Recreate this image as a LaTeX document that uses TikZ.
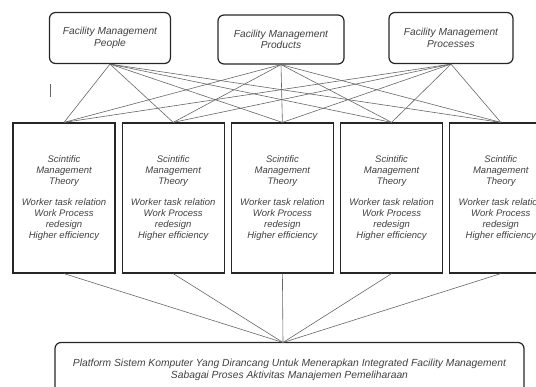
\documentclass[tikz,border=0pt]{standalone}
\usepackage{fontspec}
\setmainfont{Liberation Sans}
\usepackage{tikz}
\usetikzlibrary{positioning}

\begin{document}
\begin{tikzpicture}[
  x=1pt, y=-1pt,
  topbox/.style={draw=black!85, line width=1.2pt, rounded corners=6pt,
    minimum width=121pt, minimum height=51pt, align=center, inner sep=2pt,
    font=\fontsize{10.2}{11.5}\selectfont\itshape, text=black!75},
  theorybox/.style={draw=black!85, line width=1.2pt,
    minimum width=102pt, minimum height=150pt, align=center, inner sep=2pt,
    font=\fontsize{9.5}{11}\selectfont\itshape, text=black!75},
  ]
  \tikzset{%
    conn/.style={
      draw=black!60,
      line width=0.6pt,
    },
  }
  \useasboundingbox (0,0) rectangle (536,387);
  %Nodes
  \node[topbox](t1) at (110,38) {Facility Management\\People};
  \node[topbox, minimum width=126pt, minimum height=49pt](t2) at (281,39.5) {Facility Management\\Products};
  \node[topbox, minimum width=124pt](t3) at (451,38) {Facility Management\\Processes};
  \node[theorybox](m1) at (64,198) {Scintific\\Management\\Theory\\[10pt]Worker task relation\\Work Process\\redesign\\Higher efficiency};
  \node[theorybox, right=6pt of m1](m2) {Scintific\\Management\\Theory\\[10pt]Worker task relation\\Work Process\\redesign\\Higher efficiency};
  \node[theorybox, right=6pt of m2](m3) {Scintific\\Management\\Theory\\[10pt]Worker task relation\\Work Process\\redesign\\Higher efficiency};
  \node[theorybox, right=6pt of m3](m4) {Scintific\\Management\\Theory\\[10pt]Worker task relation\\Work Process\\redesign\\Higher efficiency};
  \node[theorybox, right=6pt of m4](m5) {Scintific\\Management\\Theory\\[10pt]Worker task relation\\Work Process\\redesign\\Higher efficiency};
  \node[topbox, minimum width=469pt, minimum height=55pt, font=\fontsize{10.3}{12.6}\selectfont\itshape](pf) at (289.5,370) {Platform Sistem Komputer Yang Dirancang Untuk Menerapkan Integrated Facility Management\\Sabagai Proses Aktivitas Manajemen Pemeliharaan};
  \coordinate (pin) at (283,342.5);
  %Lines
  \draw[conn]
    (t1.south) edge (m1.north)
    (t1.south) edge (m2.north)
    (t1.south) edge (m3.north)
    (t1.south) edge (m4.north)
    (t1.south) edge (m5.north)
    (t2.south) edge (m1.north)
    (t2.south) edge (m2.north)
    (t2.south) edge (m3.north)
    (t2.south) edge (m4.north)
    (t2.south) edge (m5.north)
    (t3.south) edge (m1.north)
    (t3.south) edge (m2.north)
    (t3.south) edge (m3.north)
    (t3.south) edge (m4.north)
    (t3.south) edge (m5.north)
    (m1.south) edge (pin)
    (m2.south) edge (pin)
    (m3.south) edge (pin)
    (m4.south) edge (pin)
    (m5.south) edge (pin)
    ;
  % stray mark
  \draw[black!60, line width=0.6pt] (50.5,84) -- (50.5,97);
\end{tikzpicture}
\end{document}
